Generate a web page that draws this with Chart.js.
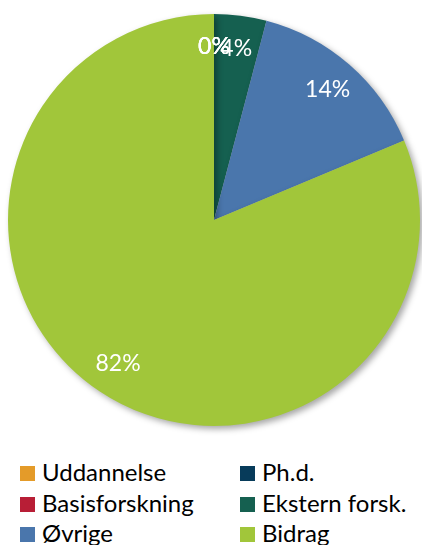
<!DOCTYPE html>
<html>
<head>
<meta charset="utf-8">
<script src="https://cdn.jsdelivr.net/npm/chart.js@4/dist/chart.umd.min.js"></script>
<style>
  body { margin: 0; background: #fff; width: 422px; height: 545px; overflow: hidden; position: relative; font-family: Lato, "Open Sans", sans-serif; }
  #wrap { position: absolute; left: 0; top: 0; width: 422px; height: 440px; }
  #legend { position: absolute; left: 20px; top: 456px; width: 400px; }
  .item { position: absolute; font-size: 24px; color: #000; line-height: 31px; white-space: nowrap; }
  .box { display: inline-block; width: 15px; height: 15px; margin-right: 7px; vertical-align: 0px; }
</style>
</head>
<body>
<div id="wrap"><canvas id="pie_chart"></canvas></div>
<div id="legend"></div>
<script>
// slices, clockwise from 12 o'clock
const categories = ['Uddannelse', 'Ph.d.', 'Basisforskning', 'Ekstern forsk.', 'Øvrige', 'Bidrag'];
const values = [0, 0, 0, 4.1, 14.6, 81.3];
const percent_labels = ['0%', '0%', '0%', '4%', '14%', '82%'];
const colors = ['#E49B29', '#073B5A', '#B81E36', '#156050', '#4A76AC', '#A1C63A'];

// legend: two columns, filled row by row
var legend = document.getElementById('legend');
for (var i = 0; i < categories.length; i++) {
    var el = document.createElement('div');
    el.className = 'item';
    el.style.left = (i % 2 === 0 ? 0 : 220) + 'px';
    el.style.top = (Math.floor(i / 2) * 30.5) + 'px';
    el.innerHTML = '<span class="box" style="background:' + colors[i] + '"></span>' + categories[i];
    legend.appendChild(el);
}

// white percentage labels inside the slices
const slice_labels = {
    id: 'slice_labels',
    afterDatasetsDraw(chart) {
        var ctx = chart.ctx;
        var meta = chart.getDatasetMeta(0);
        ctx.save();
        ctx.fillStyle = '#fff';
        ctx.font = '23px Lato, "Open Sans", sans-serif';
        ctx.textAlign = 'center';
        ctx.textBaseline = 'middle';
        meta.data.forEach(function (arc, i) {
            var mid = (arc.startAngle + arc.endAngle) / 2;
            var r = arc.outerRadius * 0.84;
            ctx.fillText(percent_labels[i], arc.x + Math.cos(mid) * r, arc.y + Math.sin(mid) * r);
        });
        ctx.restore();
    }
};

// soft shadow behind the pie
const pie_shadow = {
    id: 'pie_shadow',
    beforeDatasetsDraw(chart) {
        var ctx = chart.ctx;
        ctx.save();
        ctx.shadowColor = 'rgba(0,0,0,0.35)';
        ctx.shadowBlur = 6;
        ctx.shadowOffsetX = 3;
        ctx.shadowOffsetY = 3;
    },
    afterDatasetsDraw(chart) {
        chart.ctx.restore();
    }
};

new Chart(document.getElementById('pie_chart'), {
    type: 'pie',
    data: {
        labels: categories,
        datasets: [{
            data: values,
            backgroundColor: colors,
            borderWidth: 0
        }]
    },
    options: {
        responsive: true,
        maintainAspectRatio: false,
        animation: false,
        layout: { padding: { top: 14, bottom: 14, left: 8, right: 2 } },
        plugins: {
            legend: { display: false },
            tooltip: { enabled: false }
        }
    },
    plugins: [pie_shadow, slice_labels]
});
</script>
</body>
</html>
